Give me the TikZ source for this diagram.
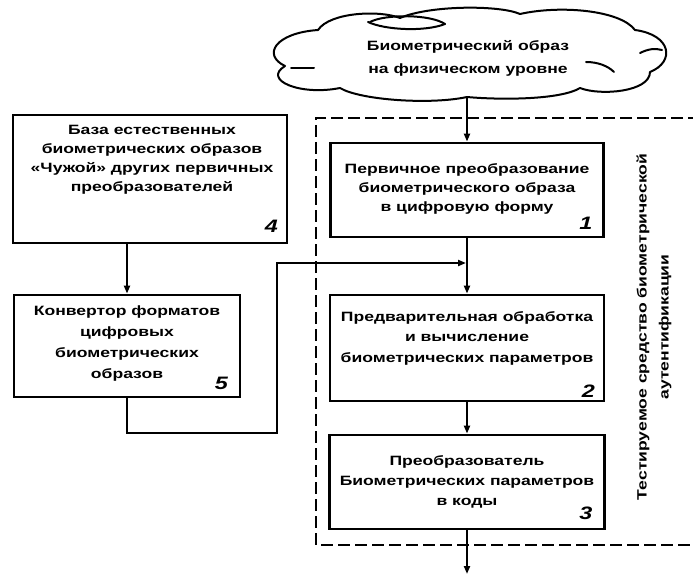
\documentclass[tikz,border=0pt]{standalone}
\usepackage{fontspec}
\setmainfont{Liberation Sans}[FakeStretch=1.3]
\usetikzlibrary{arrows.meta}
\begin{document}
\begin{tikzpicture}[x=1pt,y=-1pt,
  box/.style={draw, line width=2.8pt, inner sep=0pt},
  txt/.style={align=center, font=\fontsize{13.5}{19}\selectfont\bfseries, inner sep=0pt},
  num/.style={font=\fontsize{18}{18}\selectfont\bfseries\itshape, inner sep=0pt},
  conn/.style={line width=2pt},
  arr/.style={conn, -{Triangle[length=8pt,width=6pt]}},
  dashedframe/.style={line width=2pt, dash pattern=on 12pt off 5pt},
  cloudline/.style={line width=2pt, line join=round, line cap=round}]
\useasboundingbox (0,0) rectangle (693,575);
% cloud
\draw[cloudline] (318,30) .. controls (330,12) and (380,10) .. (400,18)
  .. controls (430,5) and (500,5) .. (520,14)
  .. controls (560,5) and (620,10) .. (635,30)
  .. controls (672,35) and (675,62) .. (650,72)
  .. controls (650,92) and (600,96) .. (580,88)
  .. controls (560,100) and (500,100) .. (467,97)
  .. controls (430,105) and (360,100) .. (340,88)
  .. controls (300,96) and (262,80) .. (285,66)
  .. controls (262,55) and (275,33) .. (318,30) -- cycle;
\draw[cloudline] (368,22) .. controls (385,30) and (425,32) .. (445,24);
\draw[cloudline] (370,22) .. controls (385,14) and (430,14) .. (445,24);
\draw[cloudline] (640,53) .. controls (648,49) and (655,48) .. (662,50);
\draw[cloudline] (586,62) .. controls (598,62) and (608,66) .. (614,72);
\draw[cloudline] (291,68) -- (314,68);
\node[txt, font=\fontsize{13.5}{23}\selectfont\bfseries] (cloudtxt) at (468,58) {Биометрический образ\\на физическом уровне};
\coordinate (cb) at (467,97);
% dashed frame
\draw[dashedframe] (700,118) -- (316,118) -- (316,545) -- (700,545);
% boxes
\node[box, minimum width=274pt, minimum height=128pt] (b4) at (150,179) {};
\node[box, minimum width=226pt, minimum height=102pt] (b5) at (127,346) {};
\node[box, minimum width=273pt, minimum height=94pt] (b1) at (467,190) {};
\node[box, minimum width=274pt, minimum height=106pt] (b2) at (467,348) {};
\node[box, minimum width=275pt, minimum height=94pt] (b3) at (467,482) {};
% texts
\node[txt] (t4) at (152,160) {База естественных\\биометрических образов\\«Чужой» других первичных\\преобразователей};
\node[txt, font=\fontsize{13.5}{21}\selectfont\bfseries] (t5) at (127,344) {Конвертор форматов\\цифровых\\биометрических\\образов};
\node[txt] (t1) at (467,189) {Первичное преобразование\\биометрического образа\\в цифровую форму};
\node[txt, font=\fontsize{13.5}{20.5}\selectfont\bfseries] (t2) at (467,338) {Предварительная обработка\\и вычисление\\биометрических параметров};
\node[txt, font=\fontsize{13.5}{20}\selectfont\bfseries] (t3) at (467,482) {Преобразователь\\Биометрических параметров\\в коды};
\node[txt, rotate=90, font=\fontsize{13.5}{22}\selectfont\bfseries] (tv) at (654,327) {Тестируемое средство биометрической\\аутентификации};
% numbers
\node[num] (n1) at ([shift={(-19,-15)}]b1.south east) {1};
\node[num] (n2) at ([shift={(-17,-11)}]b2.south east) {2};
\node[num] (n3) at ([shift={(-20,-17)}]b3.south east) {3};
\node[num] (n4) at ([shift={(-17,-18)}]b4.south east) {4};
\node[num] (n5) at ([shift={(-20,-15)}]b5.south east) {5};
% connectors
\coordinate (j) at (466,263);
\coordinate (out) at (467,574);
\draw[arr] (cb) -- (b1.north);
\draw[arr] (b1) -- (b2);
\draw[arr] (b2) -- (b3);
\draw[arr] (b3) -- (out);
\draw[arr] (b5.north |- b4.south) -- (b5.north);
\draw[arr] (b5.south) -- ++(0,35) -| (277,263) -- (j);
\end{tikzpicture}
\end{document}
